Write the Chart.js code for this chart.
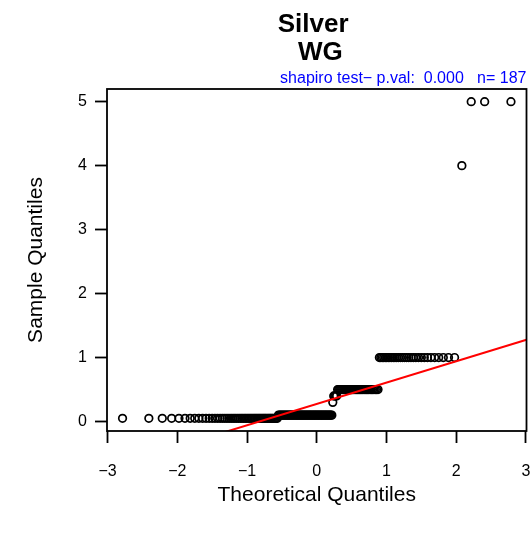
<!DOCTYPE html>
<html><head><meta charset="utf-8">
<script src="https://cdn.jsdelivr.net/npm/chart.js@4"></script>
<style>html,body{margin:0;padding:0;background:#fff}#wrap{width:532px;height:537px}canvas{display:block}</style>
</head><body>
<div id="wrap"><canvas id="c" width="532" height="537"></canvas></div>
<script>
// ---- data ----
const titleLines = ["Silver ", " WG"];
const subtitleText = "shapiro test\u2212 p.val:  0.000   n= 187";
const xAxisLabel = "Theoretical Quantiles";
const yAxisLabel = "Sample Quantiles";
const sampleValues = [0.05, 0.1, 0.3, 0.4, 0.5, 1, 4, 5];
const sampleCounts = [54, 56, 1, 4, 37, 31, 1, 3];
const xTicks = [-3, -2, -1, 0, 1, 2, 3];
const yTicks = [0, 1, 2, 3, 4, 5];

// ---- Q-Q computation (as R qqnorm / qqline) ----
function qnorm(p){
  const a=[-3.969683028665376e+01,2.209460984245205e+02,-2.759285104469687e+02,1.383577518672690e+02,-3.066479806614716e+01,2.506628277459239e+00];
  const b=[-5.447609879822406e+01,1.615858368580409e+02,-1.556989798598866e+02,6.680131188771972e+01,-1.328068155288572e+01];
  const c=[-7.784894002430293e-03,-3.223964580411365e-01,-2.400758277161838e+00,-2.549732539343734e+00,4.374664141464968e+00,2.938163982698783e+00];
  const d=[7.784695709041462e-03,3.224671290700398e-01,2.445134137142996e+00,3.754408661907416e+00];
  const pl=0.02425, ph=1-pl; let q,r;
  if(p<pl){q=Math.sqrt(-2*Math.log(p));return (((((c[0]*q+c[1])*q+c[2])*q+c[3])*q+c[4])*q+c[5])/((((d[0]*q+d[1])*q+d[2])*q+d[3])*q+1);}
  if(p<=ph){q=p-0.5;r=q*q;return (((((a[0]*r+a[1])*r+a[2])*r+a[3])*r+a[4])*r+a[5])*q/(((((b[0]*r+b[1])*r+b[2])*r+b[3])*r+b[4])*r+1);}
  q=Math.sqrt(-2*Math.log(1-p));return -(((((c[0]*q+c[1])*q+c[2])*q+c[3])*q+c[4])*q+c[5])/((((d[0]*q+d[1])*q+d[2])*q+d[3])*q+1);
}
const sample = [];
sampleValues.forEach((v,i)=>{ for(let k=0;k<sampleCounts[i];k++) sample.push(v); });
const n = sample.length;
const a0 = n <= 10 ? 3/8 : 0.5;
const points = sample.map((v,i)=>({x: qnorm((i+1-a0)/(n+1-2*a0)), y: v}));
function quantile7(arr,p){ const h=(arr.length-1)*p; const lo=Math.floor(h); return arr[lo]+(h-lo)*((arr[Math.min(lo+1,arr.length-1)])-arr[lo]); }
const y1=quantile7(sample,0.25), y3=quantile7(sample,0.75), x1=qnorm(0.25), x3=qnorm(0.75);
const slope=(y3-y1)/(x3-x1), intercept=y1-slope*x1;
const xs=points.map(p=>p.x), ys=sample;
const xr=[Math.min(...xs),Math.max(...xs)], yr=[Math.min(...ys),Math.max(...ys)];
const xlim=[xr[0]-0.04*(xr[1]-xr[0]), xr[1]+0.04*(xr[1]-xr[0])];
const ylim=[yr[0]-0.04*(yr[1]-yr[0]), yr[1]+0.04*(yr[1]-yr[0])];
const linePts=[{x:xlim[0],y:intercept+slope*xlim[0]},{x:xlim[1],y:intercept+slope*xlim[1]}];

const FONT="'Liberation Sans', Arial, Helvetica, sans-serif";
const fmt=v=> v<0 ? '\u2212'+Math.abs(v) : String(v);

const frame={
  id:'frame',
  afterDraw(chart){
    const {ctx,chartArea:ca}=chart;
    ctx.save();
    ctx.strokeStyle='#000'; ctx.lineWidth=1.8;
    ctx.strokeRect(ca.left,ca.top,ca.right-ca.left,ca.bottom-ca.top);
    const cx=(ca.left+ca.right)/2;
    ctx.fillStyle='#000'; ctx.textAlign='center'; ctx.textBaseline='alphabetic';
    ctx.font="bold 26px "+FONT;
    ctx.fillText(titleLines[0],cx,32);
    ctx.fillText(titleLines[1],cx,60);
    ctx.fillStyle='#0000ff'; ctx.textAlign='right';
    ctx.font="16px "+FONT;
    ctx.fillText(subtitleText,ca.right,83);
    ctx.restore();
  }
};

new Chart(document.getElementById('c'),{
  type:'scatter',
  data:{datasets:[
    {data:points,showLine:false,pointStyle:'circle',pointRadius:3.8,pointBorderWidth:1.7,pointBorderColor:'#000',pointBackgroundColor:'rgba(0,0,0,0)',pointHoverRadius:3.8,order:2},
    {data:linePts,showLine:true,borderColor:'#ff0000',borderWidth:2,pointRadius:0,fill:false,order:1}
  ]},
  options:{
    responsive:false,animation:false,devicePixelRatio:1,
    layout:{padding:{left:0,right:5,top:89,bottom:0}},
    plugins:{legend:{display:false},tooltip:{enabled:false},title:{display:false}},
    scales:{
      x:{type:'linear',min:xlim[0],max:xlim[1],
        afterBuildTicks:s=>{s.ticks=xTicks.map(v=>({value:v}));},
        afterFit:s=>{s.height=106;s.paddingLeft=0;s.paddingRight=0;},
        grid:{display:true,drawOnChartArea:false,drawTicks:true,tickLength:12,tickColor:'#000',tickWidth:1.8},
        border:{display:false},
        ticks:{color:'#000',font:{family:FONT,size:16},padding:19,maxRotation:0,autoSkip:false,callback:v=>fmt(v)},
        title:{display:true,text:xAxisLabel,color:'#000',font:{family:FONT,size:21},padding:{top:0,bottom:29}}
      },
      y:{type:'linear',min:ylim[0],max:ylim[1],
        afterBuildTicks:s=>{s.ticks=yTicks.map(v=>({value:v}));},
        afterFit:s=>{s.width=107;s.paddingTop=0;s.paddingBottom=0;},
        grid:{display:true,drawOnChartArea:false,drawTicks:true,tickLength:12,tickColor:'#000',tickWidth:1.8},
        border:{display:false},
        ticks:{color:'#000',font:{family:FONT,size:16},padding:8,autoSkip:false,callback:v=>fmt(v)},
        title:{display:true,text:yAxisLabel,color:'#000',font:{family:FONT,size:21},padding:{top:24,bottom:0}}
      }
    }
  },
  plugins:[frame]
});
</script>
</body></html>
